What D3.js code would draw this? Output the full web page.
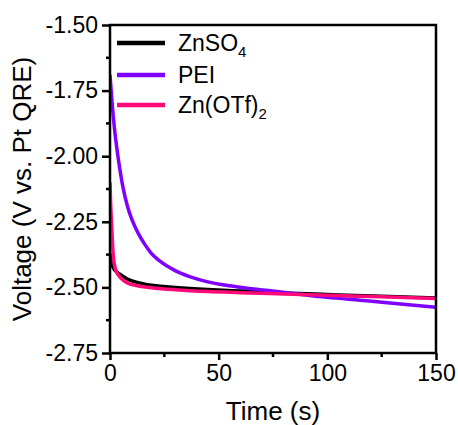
<!DOCTYPE html>
<html>
<head>
<meta charset="utf-8">
<script src="https://cdn.jsdelivr.net/npm/d3@7"></script>
<style>
  body { margin: 0; background: #fff; }
  svg text { font-family: Arial, "Liberation Sans", sans-serif; fill: #000; }
</style>
</head>
<body>
<div id="chart"></div>
<script>
// values
var seriesNames = ["ZnSO4", "PEI", "Zn(OTf)2"];
var seriesColors = ["#000000", "#7f00ff", "#ff0a78"];

var znso4Time = [0, 0.5, 1.5, 3, 5, 8, 14, 20, 30, 45, 60, 80, 100, 125, 150];
var znso4Volt = [-2.37, -2.40, -2.425, -2.44, -2.452, -2.468, -2.484, -2.493, -2.500, -2.508, -2.514, -2.521, -2.527, -2.534, -2.540];

var peiTime = [0, 0.5, 1, 2, 3, 4, 6, 8, 10, 13, 16, 19, 23, 30, 37, 45, 55, 64, 73, 85, 100, 115, 130, 150];
var peiVolt = [-1.69, -1.745, -1.80, -1.89, -1.96, -2.02, -2.12, -2.19, -2.24, -2.294, -2.336, -2.37, -2.40, -2.436, -2.46, -2.479, -2.494, -2.504, -2.512, -2.524, -2.538, -2.549, -2.56, -2.576];

var otfTime = [0, 0.3, 0.8, 1.5, 2.5, 4, 6, 8, 12, 20, 30, 45, 60, 80, 100, 125, 150];
var otfVolt = [-2.10, -2.18, -2.27, -2.38, -2.43, -2.455, -2.472, -2.483, -2.493, -2.502, -2.509, -2.516, -2.520, -2.525, -2.530, -2.536, -2.542];

var xTicks = [0, 50, 100, 150];
var xMinor = [25, 75, 125];
var yTicks = [-1.50, -1.75, -2.00, -2.25, -2.50, -2.75];
var yMinor = [-1.625, -1.875, -2.125, -2.375, -2.625];

var svgwidth = 458, svgheight = 425;
var margin = {top: 25, right: 22, bottom: 72, left: 110},
    width = svgwidth - margin.left - margin.right,
    height = svgheight - margin.top - margin.bottom;

var series = [
  {name: seriesNames[0], color: seriesColors[0], values: znso4Time.map((t, i) => ({t: t, v: znso4Volt[i]}))},
  {name: seriesNames[1], color: seriesColors[1], values: peiTime.map((t, i) => ({t: t, v: peiVolt[i]}))},
  {name: seriesNames[2], color: seriesColors[2], values: otfTime.map((t, i) => ({t: t, v: otfVolt[i]}))}
];

var x = d3.scaleLinear().domain([0, 150]).range([0, width]);
var y = d3.scaleLinear().domain([-2.75, -1.5]).range([height, 0]);

var svg = d3.select("#chart").append("svg")
    .attr("width", svgwidth)
    .attr("height", svgheight)
  .append("g")
    .attr("transform", "translate(" + margin.left + "," + margin.top + ")");

svg.append("clipPath").attr("id", "clip")
  .append("rect").attr("x", 0).attr("y", -2).attr("width", width).attr("height", height + 2);

var line = d3.line()
    .x(d => x(d.t))
    .y(d => y(d.v))
    .curve(d3.curveMonotoneX);

svg.append("g").attr("clip-path", "url(#clip)")
  .selectAll("path.series")
    .data(series)
  .enter().append("path")
    .attr("class", "series")
    .attr("fill", "none")
    .attr("stroke", d => d.color)
    .attr("stroke-width", 3.5)
    .attr("stroke-linejoin", "round")
    .attr("d", d => line(d.values));

// axes
var xAxis = d3.axisBottom(x).tickValues(xTicks).tickFormat(d3.format("d")).tickSize(7).tickPadding(5);
var yAxis = d3.axisLeft(y).tickValues(yTicks).tickFormat(d3.format(".2f")).tickSize(8).tickPadding(4);

var gx = svg.append("g")
    .attr("transform", "translate(0," + height + ")")
    .call(xAxis);
var gy = svg.append("g").call(yAxis);

[gx, gy].forEach(function(g) {
  g.select(".domain").remove();
  g.selectAll("line").attr("stroke", "#000").attr("stroke-width", 2.5);
  g.selectAll("text").style("font-size", "23px").attr("fill", "#000");
});
gy.selectAll("text").text(d => d3.format(".2f")(d).replace("−", "-"));

svg.append("g").selectAll("line")
    .data(xMinor)
  .enter().append("line")
    .attr("x1", d => x(d)).attr("x2", d => x(d))
    .attr("y1", height).attr("y2", height + 4)
    .attr("stroke", "#000").attr("stroke-width", 2.5);

svg.append("g").selectAll("line")
    .data(yMinor)
  .enter().append("line")
    .attr("x1", -4).attr("x2", 0)
    .attr("y1", d => y(d)).attr("y2", d => y(d))
    .attr("stroke", "#000").attr("stroke-width", 2.5);

// frame
svg.append("rect")
    .attr("x", 0).attr("y", 0)
    .attr("width", width).attr("height", height)
    .attr("fill", "none")
    .attr("stroke", "#000")
    .attr("stroke-width", 2.5);

// axis titles
svg.append("text")
    .attr("x", width / 2)
    .attr("y", height + 67)
    .attr("text-anchor", "middle")
    .style("font-size", "26px")
    .text("Time (s)");

svg.append("text")
    .attr("transform", "rotate(-90)")
    .attr("x", -height / 2)
    .attr("y", -79)
    .attr("text-anchor", "middle")
    .style("font-size", "26px")
    .text("Voltage (V vs. Pt QRE)");

// legend
var legend = svg.append("g").attr("transform", "translate(7,18)");
var legendItem = legend.selectAll("g")
    .data(series)
  .enter().append("g")
    .attr("transform", (d, i) => "translate(0," + [0, 32, 62][i] + ")");

legendItem.append("line")
    .attr("x1", 0).attr("x2", 48)
    .attr("stroke", d => d.color)
    .attr("stroke-width", 4.5);

var lt = legendItem.append("text")
    .attr("x", 61)
    .attr("y", 8)
    .style("font-size", "23px");

lt.each(function(d) {
  var t = d3.select(this);
  var m = d.name.match(/^(.*?)(\d)$/);
  if (m) {
    t.append("tspan").text(m[1]);
    t.append("tspan").attr("dy", 6).style("font-size", "15px").text(m[2]);
  } else {
    t.text(d.name);
  }
});
</script>
</body>
</html>
